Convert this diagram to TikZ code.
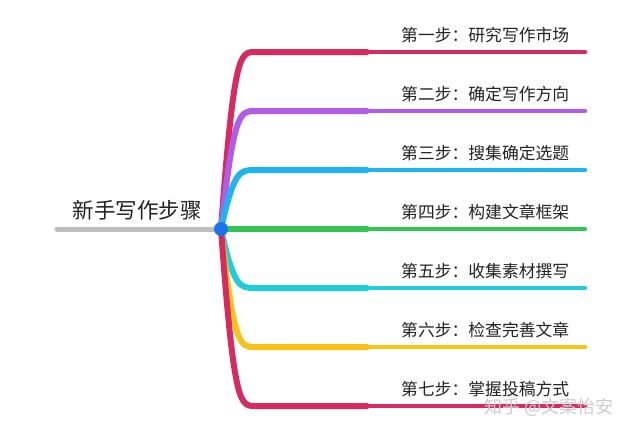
\documentclass[tikz,border=0pt]{standalone}
\usepackage{fontspec}
\setmainfont{Noto Sans CJK SC}
\definecolor{cred}{HTML}{D62A60}
\definecolor{cpurple}{HTML}{B15CE9}
\definecolor{cblue}{HTML}{1FB3EF}
\definecolor{cgreen}{HTML}{34C456}
\definecolor{ccyan}{HTML}{20CDDD}
\definecolor{cyellow}{HTML}{F8C316}
\definecolor{cgray}{HTML}{BDBDBD}
\definecolor{cdot}{HTML}{1A75EC}
\definecolor{ctext}{HTML}{222222}
\tikzset{
  thickbranch/.style={line width=6pt, line cap=round},
  thinbranch/.style={line width=4.5pt, line cap=round},
  steplabel/.style={anchor=west, inner sep=0pt, font=\fontsize{16.8pt}{19pt}\selectfont, text=ctext},
  rootline/.style={line width=5pt, line cap=round, cgray},
  rootdot/.style={circle, fill=cdot, minimum size=14pt, inner sep=0pt},
  roottext/.style={inner sep=0pt, font=\fontsize{21.5pt}{24pt}\selectfont, text=ctext},
  watermark/.style={inner sep=0pt, font=\fontsize{18pt}{20pt}\selectfont, text=black!20, anchor=west}
}
\begin{document}
\begin{tikzpicture}[x=1pt,y=-1pt]
\useasboundingbox (0,0) rectangle (640,432);
\fill[white] (0,0) rectangle (640,432);
\coordinate (c) at (221,229);
\coordinate (r0) at (57,229);
\draw[rootline] (r0) -- (c);
\node[roottext] (title) at (137,210) {新手写作步骤};
\foreach \i/\y/\col/\txt in {
  1/52/cred/第一步：研究写作市场,
  2/111/cpurple/第二步：确定写作方向,
  3/170/cblue/第三步：搜集确定选题,
  4/229/cgreen/第四步：构建文章框架,
  5/288/ccyan/第五步：收集素材撰写,
  6/347/cyellow/第六步：检查完善文章,
  7/406/cred/第七步：掌握投稿方式}{
  \coordinate (b\i) at (255,\y);
  \coordinate (m\i) at (367,\y);
  \coordinate (e\i) at (585,\y);
  \draw[thinbranch,\col] (m\i) -- (e\i);
  \draw[thickbranch,\col] (c) .. controls (234,\y) and (240,\y) .. (b\i) -- (m\i);
  \node[steplabel] (s\i) at (401,\y-17) {\txt};
}
\node[rootdot] (dot) at (c) {};
\node[watermark] (wm) at (484,407) {知乎 @文案怡安};
\end{tikzpicture}
\end{document}
